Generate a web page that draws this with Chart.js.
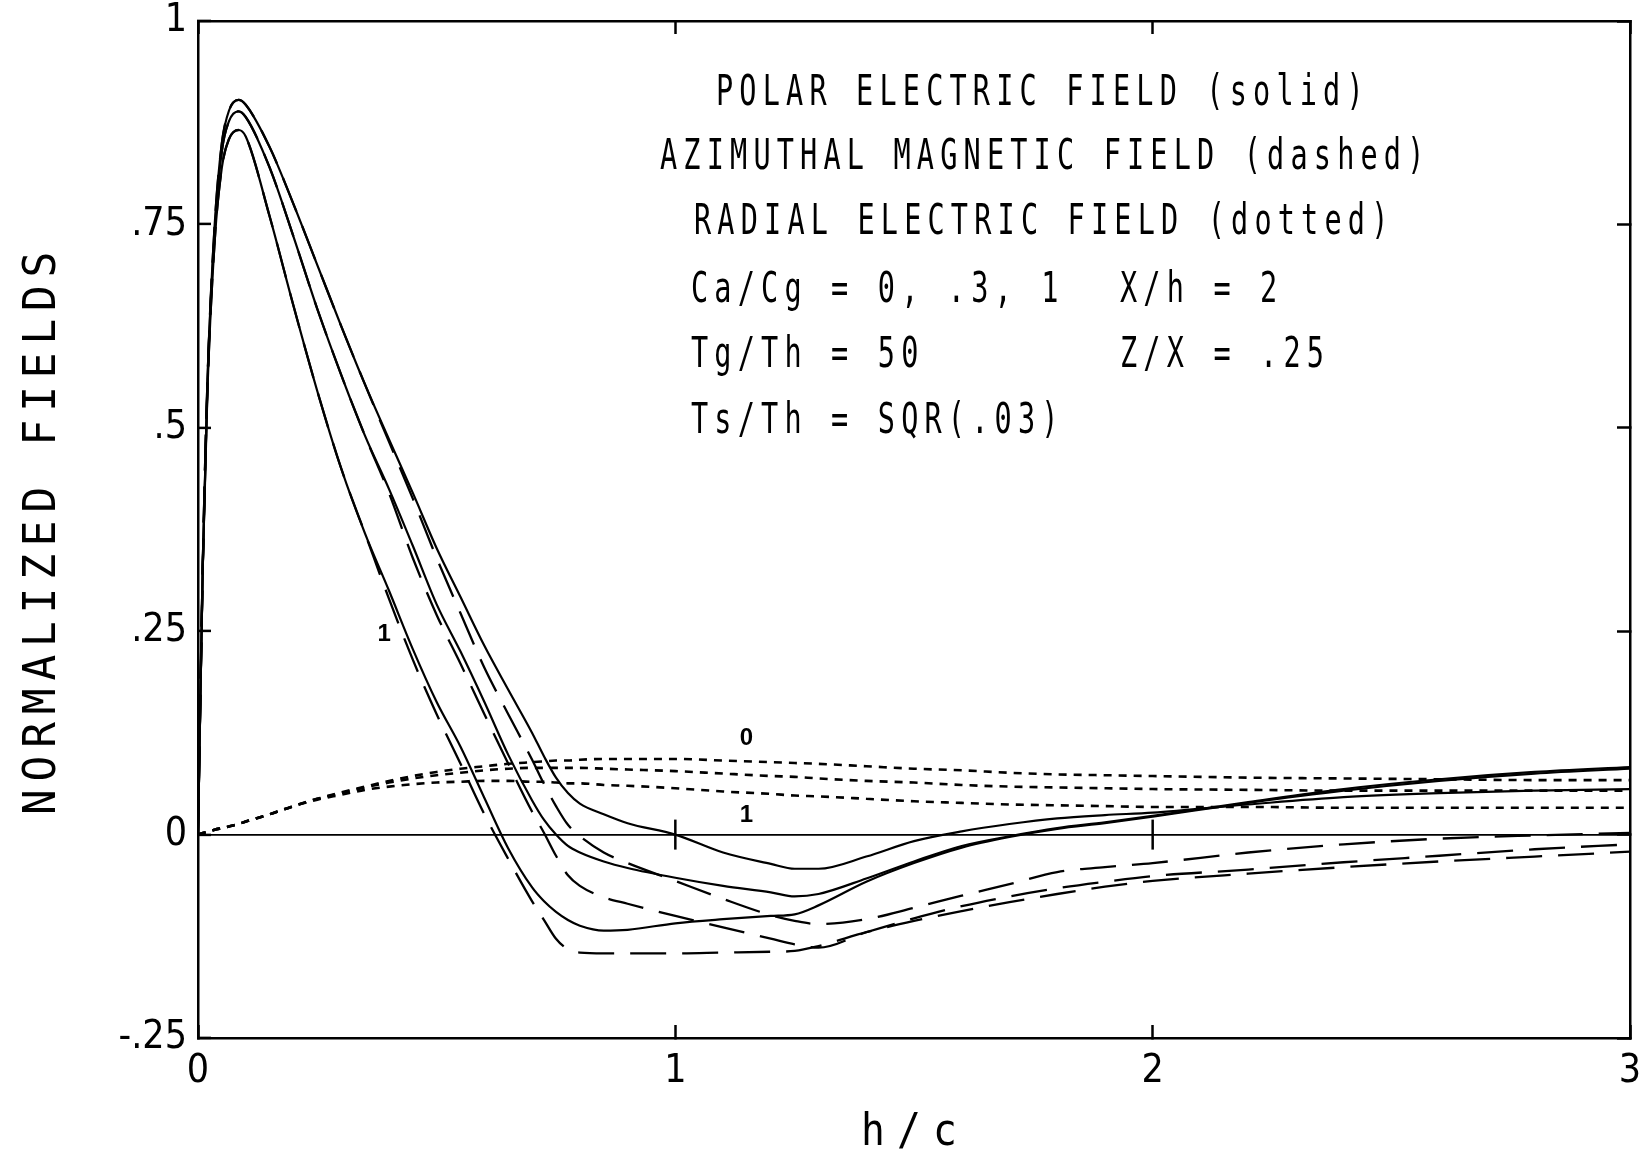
<!DOCTYPE html>
<html>
<head>
<meta charset="utf-8">
<title>Normalized fields vs h/c</title>
<script src="https://cdn.jsdelivr.net/npm/chart.js@4.4.1/dist/chart.umd.min.js"></script>
<style>
  html, body { margin: 0; padding: 0; background: #fff; }
  canvas { display: block; }
</style>
</head>
<body>
<canvas id="fieldsChart" width="1647" height="1149"></canvas>
<script>
// h/c positions shared by every curve
const hc = [0, 0.01, 0.02, 0.035, 0.05, 0.065, 0.085, 0.1, 0.15, 0.2, 0.25, 0.3, 0.35, 0.4, 0.45,
  0.5, 0.55, 0.6, 0.65, 0.7, 0.725, 0.75, 0.775, 0.8, 0.85, 0.9, 1.0, 1.1, 1.2, 1.25, 1.3,
  1.4, 1.5, 1.6, 1.7, 1.8, 1.9, 2.0, 2.2, 2.4, 2.6, 2.8, 3.0];

// polar electric field (solid), Ca/Cg = 0, .3, 1
const polar0 = [0, 0.33, 0.56, 0.75, 0.85, 0.89, 0.903, 0.897, 0.845, 0.775, 0.700, 0.625, 0.553, 0.486, 0.420,
  0.352, 0.292, 0.232, 0.178, 0.125, 0.096, 0.070, 0.051, 0.038, 0.025, 0.014, 0.000, -0.022, -0.036, -0.042, -0.042,
  -0.027, -0.008, 0.004, 0.013, 0.020, 0.024, 0.027, 0.037, 0.046, 0.051, 0.054, 0.056];
const polar03 = [0, 0.33, 0.56, 0.74, 0.84, 0.877, 0.889, 0.882, 0.820, 0.735, 0.646, 0.565, 0.490, 0.425, 0.355,
  0.283, 0.225, 0.163, 0.098, 0.042, 0.018, 0.000, -0.014, -0.022, -0.033, -0.041, -0.053, -0.063, -0.071, -0.076, -0.073,
  -0.054, -0.033, -0.014, -0.002, 0.008, 0.015, 0.023, 0.040, 0.056, 0.068, 0.077, 0.083];
const polar1 = [0, 0.33, 0.55, 0.73, 0.82, 0.855, 0.866, 0.858, 0.760, 0.650, 0.545, 0.450, 0.370, 0.300, 0.228,
  0.163, 0.108, 0.045, -0.017, -0.065, -0.082, -0.095, -0.105, -0.112, -0.118, -0.117, -0.109, -0.104, -0.100, -0.098, -0.087,
  -0.058, -0.035, -0.016, -0.003, 0.007, 0.014, 0.022, 0.039, 0.054, 0.066, 0.075, 0.081];

// azimuthal magnetic field (dashed)
const azim0 = [0, 0.33, 0.56, 0.75, 0.85, 0.89, 0.903, 0.897, 0.845, 0.775, 0.700, 0.625, 0.553, 0.483, 0.413,
  0.340, 0.272, 0.205, 0.148, 0.092, 0.062, 0.035, 0.012, -0.002, -0.022, -0.035, -0.057, -0.079, -0.099, -0.106, -0.110,
  -0.104, -0.090, -0.075, -0.061, -0.046, -0.040, -0.035, -0.022, -0.012, -0.005, -0.001, 0.002];
const azim03 = [0, 0.33, 0.56, 0.74, 0.84, 0.877, 0.889, 0.882, 0.820, 0.735, 0.646, 0.565, 0.490, 0.420, 0.340,
  0.270, 0.210, 0.148, 0.087, 0.028, 0.002, -0.026, -0.050, -0.063, -0.077, -0.085, -0.100, -0.114, -0.128, -0.135, -0.139,
  -0.120, -0.103, -0.088, -0.076, -0.066, -0.058, -0.051, -0.043, -0.034, -0.026, -0.018, -0.012];
const azim1 = [0, 0.33, 0.55, 0.73, 0.82, 0.855, 0.866, 0.858, 0.760, 0.650, 0.545, 0.450, 0.370, 0.290, 0.215,
  0.148, 0.087, 0.025, -0.030, -0.082, -0.105, -0.128, -0.141, -0.145, -0.146, -0.146, -0.146, -0.145, -0.144, -0.143, -0.137,
  -0.120, -0.106, -0.094, -0.083, -0.073, -0.064, -0.057, -0.048, -0.040, -0.033, -0.027, -0.021];

// radial electric field (dotted)
const radial0 = [0, 0.002, 0.003, 0.006, 0.008, 0.010, 0.013, 0.016, 0.025, 0.035, 0.044, 0.052, 0.059, 0.066, 0.072,
  0.077, 0.081, 0.084, 0.087, 0.089, 0.090, 0.091, 0.091, 0.092, 0.093, 0.093, 0.093, 0.091, 0.089, 0.088, 0.087,
  0.084, 0.081, 0.079, 0.076, 0.074, 0.073, 0.072, 0.070, 0.069, 0.068, 0.067, 0.067];
const radial03 = [0, 0.002, 0.003, 0.006, 0.008, 0.010, 0.013, 0.016, 0.025, 0.035, 0.044, 0.051, 0.058, 0.064, 0.069,
  0.073, 0.076, 0.079, 0.081, 0.082, 0.082, 0.082, 0.082, 0.082, 0.081, 0.080, 0.078, 0.075, 0.072, 0.071, 0.069,
  0.066, 0.064, 0.061, 0.059, 0.058, 0.057, 0.056, 0.055, 0.054, 0.054, 0.054, 0.054];
const radial1 = [0, 0.002, 0.003, 0.006, 0.008, 0.010, 0.013, 0.016, 0.025, 0.035, 0.043, 0.049, 0.055, 0.059, 0.062,
  0.064, 0.065, 0.066, 0.066, 0.065, 0.065, 0.064, 0.063, 0.063, 0.061, 0.060, 0.057, 0.053, 0.050, 0.048, 0.047,
  0.044, 0.041, 0.039, 0.037, 0.036, 0.035, 0.034, 0.034, 0.033, 0.033, 0.033, 0.033];

// axis ticks
const xTickValues = [0, 1, 2, 3];
const xTickText = ['0', '1', '2', '3'];
const yTickValues = [-0.25, 0, 0.25, 0.5, 0.75, 1];
const yTickText = ['-.25', '0', '.25', '.5', '.75', '1'];
const zeroMarks = [1, 2];

// texts
const yTitle = 'NORMALIZED FIELDS';
const xTitle = 'h/c';
const noteLines = [
  'POLAR ELECTRIC FIELD (solid)',
  'AZIMUTHAL MAGNETIC FIELD (dashed)',
  'RADIAL ELECTRIC FIELD (dotted)',
  'Ca/Cg = 0, .3, 1',
  'Tg/Th = 50',
  'Ts/Th = SQR(.03)',
  'X/h = 2',
  'Z/X = .25'
];
const curveLabels = ['0', '1', '1'];
const curveLabelAt = [[1.149, 0.118], [1.149, 0.024], [0.39, 0.246]];

// where each note line starts (left, baseline), in canvas pixels
const noteLayout = [
  [716, 105], [660, 169], [694, 234],
  [691, 302], [691, 367], [691, 433],
  [1120, 302], [1120, 367]
];

const MONO = '"DejaVu Sans Mono", "Liberation Mono", monospace';
const TICK_FAMILY = '"DejaVu Sans Condensed", "Liberation Sans Narrow", "DejaVu Sans", sans-serif';

function spacedText(ctx, str, x, y, font, sx, pitch, angle) {
  ctx.save();
  ctx.translate(x, y);
  if (angle) ctx.rotate(angle);
  ctx.scale(sx, 1);
  ctx.font = font;
  ctx.fillStyle = '#000';
  ctx.textAlign = 'left';
  ctx.textBaseline = 'alphabetic';
  const adv = ctx.measureText('M').width;
  ctx.letterSpacing = (pitch / sx - adv) + 'px';
  ctx.fillText(str, 0, 0);
  ctx.letterSpacing = '0px';
  ctx.restore();
}

const plotText = {
  id: 'plotText',
  afterDraw(chart) {
    const ctx = chart.ctx;
    const xs = chart.scales.x;
    const ys = chart.scales.y;

    // small cross marks on the zero line
    ctx.save();
    ctx.strokeStyle = '#000';
    ctx.lineWidth = 2.5;
    const py = ys.getPixelForValue(0);
    zeroMarks.forEach(v => {
      const px = xs.getPixelForValue(v);
      ctx.beginPath();
      ctx.moveTo(px, py - 15);
      ctx.lineTo(px, py + 15);
      ctx.stroke();
    });
    ctx.restore();

    // description block
    noteLines.forEach((t, i) => {
      spacedText(ctx, t, noteLayout[i][0], noteLayout[i][1], '42px ' + MONO, 0.68, 23.35);
    });

    // curve labels
    ctx.save();
    ctx.fillStyle = '#000';
    ctx.font = 'bold 24px "Liberation Sans", "DejaVu Sans", sans-serif';
    ctx.textAlign = 'center';
    ctx.textBaseline = 'middle';
    curveLabels.forEach((t, i) => {
      ctx.fillText(t, xs.getPixelForValue(curveLabelAt[i][0]), ys.getPixelForValue(curveLabelAt[i][1]));
    });
    ctx.restore();

    // axis titles
    spacedText(ctx, yTitle, 55, 815, '45px ' + MONO, 0.95, 33.6, -Math.PI / 2);
    spacedText(ctx, xTitle, 861, 1145, '44px ' + MONO, 0.9, 36);
  }
};

function series(ys) {
  return hc.map((h, i) => ({ x: h, y: ys[i] }));
}

const SOLID = [];
const DASHED = [36, 16];
const DOTTED = [8, 7];

function line(label, ys, dash, width) {
  return {
    label: label,
    data: series(ys),
    showLine: true,
    borderColor: '#000',
    backgroundColor: '#000',
    borderWidth: width,
    borderDash: dash,
    pointRadius: 0,
    fill: false,
    cubicInterpolationMode: 'monotone'
  };
}

// fixed axis sizes so the plot frame lands where the original one is
function fixHorizontal(h) {
  return s => { s.height = h; s.paddingLeft = 0; s.paddingRight = 0; s.paddingTop = 0; s.paddingBottom = 0; };
}
function fixVertical(w) {
  return s => { s.width = w; s.paddingTop = 0; s.paddingBottom = 0; s.paddingLeft = 0; s.paddingRight = 0; };
}

const tickFont = { family: TICK_FAMILY, size: 39 };
const frame = { display: true, color: '#000', width: 2.5 };

new Chart(document.getElementById('fieldsChart'), {
  type: 'scatter',
  data: {
    datasets: [
      line('Radial Ca/Cg=0', radial0, DOTTED, 2.6),
      line('Radial Ca/Cg=.3', radial03, DOTTED, 2.6),
      line('Radial Ca/Cg=1', radial1, DOTTED, 2.6),
      line('Azimuthal Ca/Cg=0', azim0, DASHED, 2.3),
      line('Azimuthal Ca/Cg=.3', azim03, DASHED, 2.3),
      line('Azimuthal Ca/Cg=1', azim1, DASHED, 2.3),
      line('Polar Ca/Cg=0', polar0, SOLID, 2.2),
      line('Polar Ca/Cg=.3', polar03, SOLID, 2.2),
      line('Polar Ca/Cg=1', polar1, SOLID, 2.2)
    ]
  },
  options: {
    responsive: false,
    animation: false,
    devicePixelRatio: 1,
    layout: { padding: { top: 21, right: 17, left: 0, bottom: 0 } },
    plugins: { legend: { display: false }, tooltip: { enabled: false } },
    scales: {
      x: {
        type: 'linear', position: 'bottom', min: 0, max: 3,
        afterBuildTicks: s => { s.ticks = xTickValues.map(v => ({ value: v })); },
        afterFit: fixHorizontal(111),
        grid: { drawOnChartArea: false, tickLength: -13, tickWidth: 2.5, tickColor: '#000' },
        border: frame,
        ticks: {
          padding: 23, color: '#000', font: tickFont, maxRotation: 0,
          callback: v => xTickText[xTickValues.indexOf(v)]
        }
      },
      x2: {
        type: 'linear', position: 'top', min: 0, max: 3,
        afterBuildTicks: s => { s.ticks = xTickValues.map(v => ({ value: v })); },
        afterFit: fixHorizontal(0),
        grid: { drawOnChartArea: false, tickLength: -13, tickWidth: 2.5, tickColor: '#000' },
        border: frame,
        ticks: { display: false }
      },
      y: {
        type: 'linear', position: 'left', min: -0.25, max: 1,
        afterBuildTicks: s => { s.ticks = yTickValues.map(v => ({ value: v })); },
        afterFit: fixVertical(198),
        grid: {
          drawOnChartArea: true,
          color: c => (c.tick && c.tick.value === 0 ? '#000' : 'rgba(0,0,0,0)'),
          lineWidth: 1.8,
          tickLength: -13, tickWidth: 2.5, tickColor: '#000'
        },
        border: frame,
        ticks: {
          padding: 24, color: '#000', font: tickFont,
          callback: v => yTickText[yTickValues.indexOf(v)]
        }
      },
      y2: {
        type: 'linear', position: 'right', min: -0.25, max: 1,
        afterBuildTicks: s => { s.ticks = yTickValues.map(v => ({ value: v })); },
        afterFit: fixVertical(0),
        grid: { drawOnChartArea: false, tickLength: -13, tickWidth: 2.5, tickColor: '#000' },
        border: frame,
        ticks: { display: false }
      }
    }
  },
  plugins: [plotText]
});
</script>
</body>
</html>
